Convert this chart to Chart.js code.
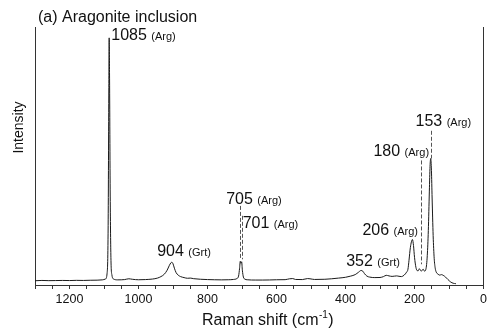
<!DOCTYPE html>
<html>
<head>
<meta charset="utf-8">
<script src="https://cdn.jsdelivr.net/npm/chart.js@4"></script>
<style>
  html, body { margin: 0; padding: 0; background: #fff; }
  canvas { display: block; }
</style>
</head>
<body>
<canvas id="myChart" width="490" height="329"></canvas>
<script>
// spectrum (Raman shift, intensity in arbitrary units)
const wavenumber = [
  1300, 1280, 1260, 1240, 1220, 1200, 1180, 1160, 1140, 1120, 1105, 1096, 1091, 1088, 1086, 1085, 1084, 1082, 1080, 1077,
  1072, 1060, 1040, 1028, 1018, 1000, 980, 960, 945, 935, 925, 917, 911, 906, 903, 900, 896, 891, 885, 878,
  868, 858, 850, 840, 820, 800, 780, 760, 740, 725, 715, 710, 707, 705, 703, 701, 699, 696, 692, 685,
  660, 640, 620, 600, 575, 562, 553, 545, 525, 510, 503, 490, 460, 440, 420, 400, 385, 372, 362, 355,
  350, 345, 338, 330, 315, 300, 290, 282, 274, 265, 252, 245, 238, 230, 223, 219, 216, 212, 206, 203,
  200, 196, 192, 189, 186, 183, 180, 177, 175, 171, 167, 163, 160, 157, 155, 153, 151, 149, 146, 143,
  140, 137, 132, 127, 122, 117, 110, 103, 95, 88, 80
];
const intensity = [
  4.3, 4.6, 4.4, 4.5, 4.6, 4.5, 4.7, 4.6, 4.8, 4.9, 5.2, 6, 12, 60, 200, 250, 215, 90, 28, 10,
  6, 5.2, 5.5, 6.3, 5.8, 5.3, 5.5, 6, 7, 8.5, 11, 15, 19.5, 22.5, 23, 21.5, 17, 12.5, 10, 8.5,
  7.5, 6.8, 7, 6.4, 5.8, 5.5, 5.3, 5.2, 5.3, 5.6, 6.5, 9, 17, 24, 22, 23.5, 15, 8, 6, 5.3,
  5, 5, 5.1, 5.3, 5.4, 6.3, 6.5, 5.6, 5.5, 6.5, 6.3, 5.6, 5.8, 6.3, 7, 7.8, 9, 10.5, 13, 14.7,
  14, 11.5, 9, 8, 7.5, 7.6, 8.5, 9.8, 9.2, 8.7, 9.2, 8.8, 8.5, 10, 13, 16, 25, 38, 46, 40,
  28, 18, 14.5, 14.5, 16.5, 15, 14, 15.5, 16, 14, 16, 30, 55, 95, 120, 128, 116, 88, 50, 27,
  17, 13, 11, 10, 10.5, 9.8, 8, 5.5, 3, 1.8, 1.3
];

// peak labels: number, phase, left edge (cm-1), text baseline (intensity)
const peakNums = ['1085', '904', '705', '701', '352', '206', '180', '153'];
const peakTags = ['(Arg)', '(Grt)', '(Arg)', '(Arg)', '(Grt)', '(Arg)', '(Arg)', '(Arg)'];
const peakLabelX = [1079, 946, 746, 698, 398, 351, 319, 197];
const peakLabelY = [248, 29, 82, 58, 19, 51, 130, 161];

// dashed guide lines
const guideX = [705, 701, 180, 153];
const guideTop = [80, 70, 126, 156];
const guideBottom = [26, 26, 21, 128];

const FONT = 'Liberation Sans, Arial, sans-serif';

const annotations = {
  id: 'annotations',
  afterDatasetsDraw(chart) {
    const ctx = chart.ctx;
    const xs = chart.scales.x;
    const ys = chart.scales.y;
    ctx.save();
    // dashed guides
    ctx.strokeStyle = '#555';
    ctx.lineWidth = 1;
    ctx.setLineDash([4, 2]);
    for (let i = 0; i < guideX.length; i++) {
      const px = Math.round(xs.getPixelForValue(guideX[i])) + 0.5;
      ctx.beginPath();
      ctx.moveTo(px, ys.getPixelForValue(guideTop[i]));
      ctx.lineTo(px, ys.getPixelForValue(guideBottom[i]));
      ctx.stroke();
    }
    ctx.setLineDash([]);
    // peak labels
    ctx.fillStyle = '#111';
    ctx.textBaseline = 'alphabetic';
    ctx.textAlign = 'left';
    for (let i = 0; i < peakNums.length; i++) {
      const px = xs.getPixelForValue(peakLabelX[i]);
      const py = ys.getPixelForValue(peakLabelY[i]);
      ctx.font = '16px ' + FONT;
      const num = peakNums[i] + ' ';
      ctx.fillText(num, px, py);
      const w = ctx.measureText(num).width;
      ctx.font = '11px ' + FONT;
      ctx.fillText(peakTags[i], px + w, py);
    }
    ctx.restore();
  },
  afterDraw(chart) {
    const ctx = chart.ctx;
    ctx.save();
    ctx.fillStyle = '#111';
    ctx.textBaseline = 'alphabetic';
    ctx.textAlign = 'left';
    // panel title
    ctx.font = '16px ' + FONT;
    ctx.fillText('(a) Aragonite inclusion', 38, 22);
    // x axis title with superscript
    let x = 202;
    const base = 325;
    ctx.font = '16px ' + FONT;
    ctx.fillText('Raman shift (cm', x, base);
    x += ctx.measureText('Raman shift (cm').width;
    ctx.font = '10px ' + FONT;
    ctx.fillText('-1', x + 0.5, base - 7);
    x += ctx.measureText('-1').width + 1;
    ctx.font = '16px ' + FONT;
    ctx.fillText(')', x, base);
    // y axis title
    ctx.translate(22.5, 127.5);
    ctx.rotate(-Math.PI / 2);
    ctx.textAlign = 'center';
    ctx.font = '14px ' + FONT;
    ctx.fillText('Intensity', 0, 0);
    ctx.restore();
  }
};

const points = wavenumber.map((w, i) => ({ x: w, y: intensity[i] }));

const config = {
  type: 'line',
  data: {
    datasets: [
      {
        data: points,
        borderColor: '#1a1a1a',
        borderWidth: 1,
        pointRadius: 0,
        cubicInterpolationMode: 'monotone',
        fill: false,
      },
    ],
  },
  options: {
    responsive: false,
    animation: false,
    devicePixelRatio: 1,
    layout: { padding: { left: 35, right: 6, top: 27, bottom: 19 } },
    plugins: {
      legend: { display: false },
      tooltip: { enabled: false },
    },
    scales: {
      x: {
        type: 'linear',
        reverse: true,
        min: 0,
        max: 1300,
        border: { display: true, color: '#333', width: 1 },
        grid: {
          display: true,
          drawOnChartArea: false,
          drawTicks: true,
          tickLength: 4,
          color: '#333',
        },
        ticks: {
          stepSize: 50,
          autoSkip: false,
          maxRotation: 0,
          padding: 3,
          color: '#111',
          font: { family: FONT, size: 12.5 },
          callback: (v) => (v % 200 === 0 ? String(v) : ''),
        },
      },
      y: {
        position: 'left',
        min: 0,
        max: 261,
        border: { display: true, color: '#333', width: 1 },
        grid: { display: false, drawTicks: false },
        ticks: { display: false },
      },
      y2: {
        position: 'right',
        min: 0,
        max: 1,
        border: { display: true, color: '#333', width: 1 },
        grid: { display: false, drawTicks: false },
        ticks: { display: false },
      },
    },
  },
  plugins: [annotations],
};

const myChart = new Chart(document.getElementById('myChart'), config);
</script>
</body>
</html>
